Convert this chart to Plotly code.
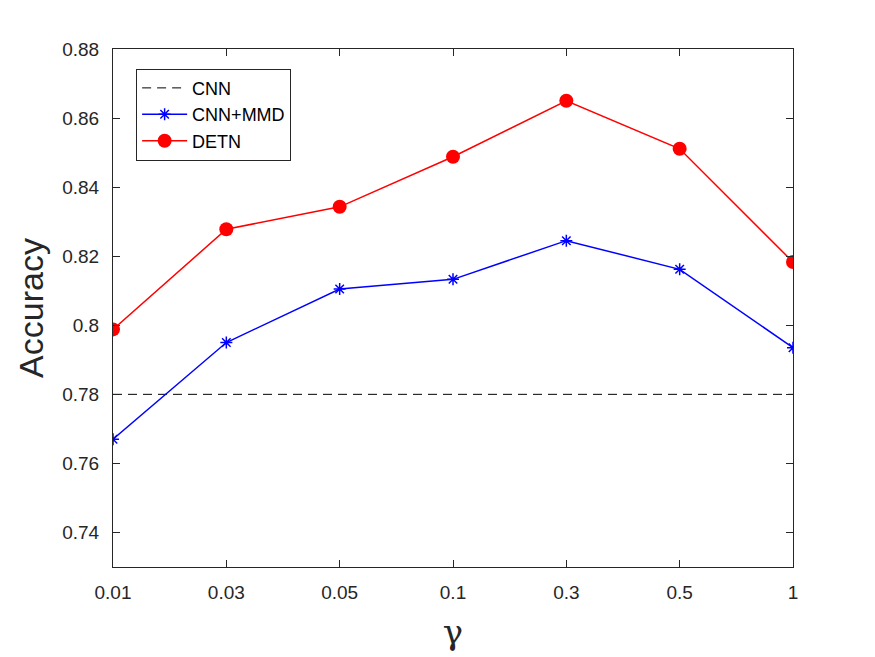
import plotly.graph_objects as go

gammas = ["0.01", "0.03", "0.05", "0.1", "0.3", "0.5", "1"]
cnn = [0.78] * 7
cnn_mmd = [0.767, 0.795, 0.8105, 0.8133, 0.8245, 0.8162, 0.7935]
detn = [0.7988, 0.8278, 0.8343, 0.8488, 0.865, 0.8511, 0.8183]
yticks = [0.74, 0.76, 0.78, 0.8, 0.82, 0.84, 0.86, 0.88]
ytick_text = ["0.74", "0.76", "0.78", "0.8", "0.82", "0.84", "0.86", "0.88"]

fig = go.Figure()
fig.add_trace(go.Scatter(x=gammas, y=cnn, mode="lines", name="CNN",
                         line=dict(color="black", width=1, dash="9px,6px")))
fig.add_trace(go.Scatter(x=gammas, y=cnn_mmd, mode="lines+markers", name="CNN+MMD",
                         line=dict(color="#0000ff", width=1.5),
                         marker=dict(symbol="asterisk-open", size=10, color="#0000ff",
                                     line=dict(color="#0000ff", width=1.5))))
fig.add_trace(go.Scatter(x=gammas, y=detn, mode="lines+markers", name="DETN",
                         line=dict(color="#ff0000", width=1.5),
                         marker=dict(symbol="circle", size=14, color="#ff0000")))

axis_common = dict(showline=True, linecolor="#262626", linewidth=1, mirror="ticks",
                   ticks="inside", ticklen=7, tickcolor="#262626", showgrid=False,
                   zeroline=False, tickfont=dict(family="Liberation Sans", size=19, color="#262626"))

fig.update_layout(
    width=875, height=657,
    margin=dict(l=113, r=82, t=49, b=90),
    paper_bgcolor="white", plot_bgcolor="white",
    font=dict(family="Liberation Sans", color="#262626"),
    xaxis=dict(type="category", range=[0, 6], ticklabelstandoff=8,
               title=dict(text="γ", font=dict(size=34, family="DejaVu Serif"), standoff=18),
               **axis_common),
    yaxis=dict(range=[0.73, 0.88], tickvals=yticks, ticktext=ytick_text, ticklabelstandoff=9,
               title=dict(text="Accuracy", font=dict(size=34), standoff=8), **axis_common),
    legend=dict(x=0.034, y=0.962, xanchor="left", yanchor="top",
                bordercolor="#262626", borderwidth=1, bgcolor="white",
                font=dict(size=18, color="black"), tracegroupgap=0, itemwidth=45),
    showlegend=True,
)

fig.write_html("out.html")
